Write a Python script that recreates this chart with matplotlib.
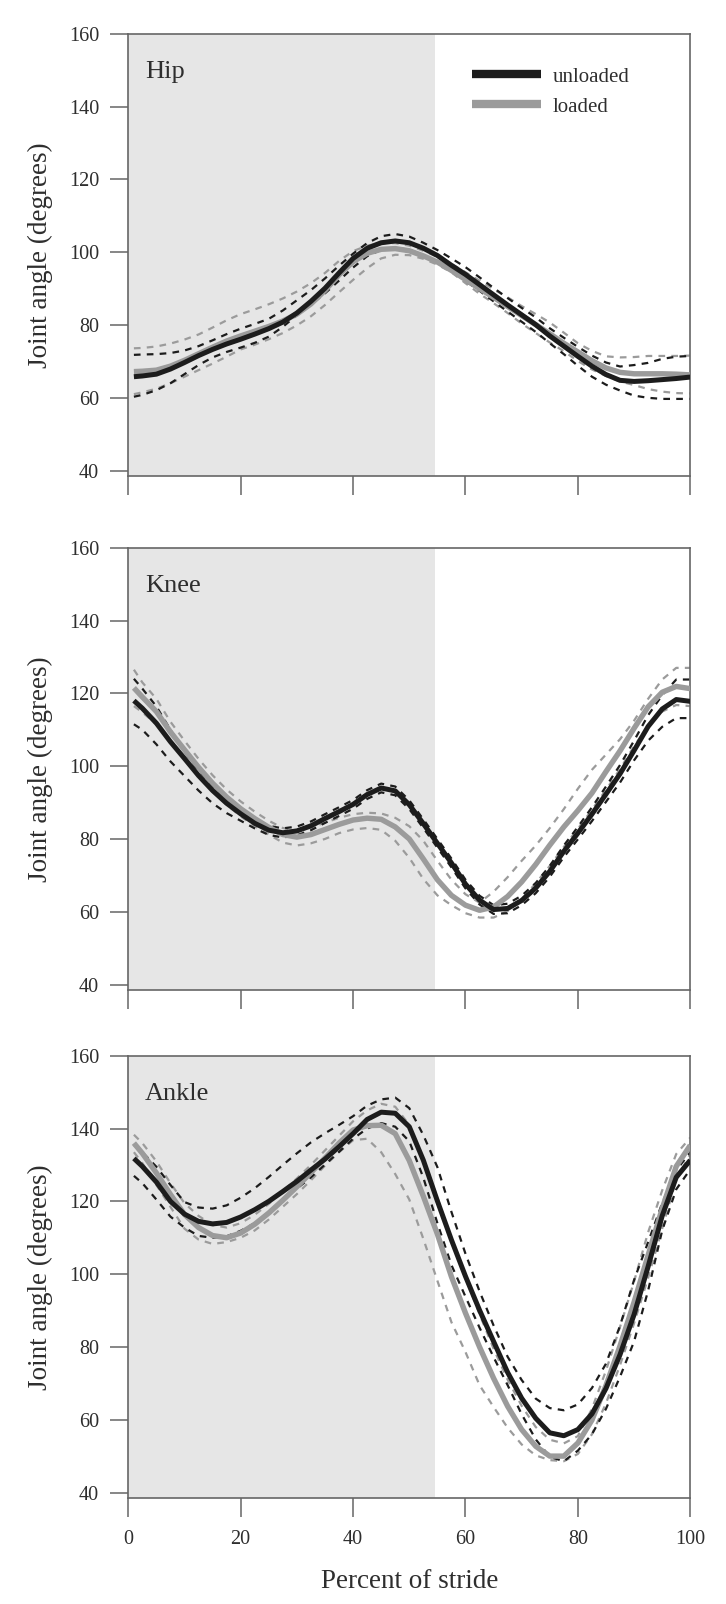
import matplotlib.pyplot as plt
from matplotlib.lines import Line2D

plt.rcParams['font.family'] = ['Liberation Serif', 'DejaVu Serif']

# Percent of stride at which the curves were read
stride = [1, 2.5, 5, 7.5, 10, 12.5, 15, 17.5, 20, 22.5, 25, 27.5, 30, 32.5, 35, 37.5, 40,
          42.5, 45, 47.5, 50, 52.5, 55, 57.5, 60, 62.5, 65, 67.5, 70, 72.5, 75, 77.5, 80,
          82.5, 85, 87.5, 90, 92.5, 95, 97.5, 100]
stance_end = 54.5

# Hip: mean and +/- SD bounds (unloaded = unl, loaded = ld)
hip_unl = [65.8, 66.0, 66.5, 67.9, 69.7, 71.6, 73.3, 74.8, 76.1, 77.5, 79.0, 80.8, 83.3, 86.5,
           90.1, 94.3, 98.3, 101.1, 102.6, 103.1, 102.6, 101.1, 99.1, 96.4, 93.9, 91.1, 88.3,
           85.5, 82.8, 80.1, 77.0, 74.2, 71.4, 68.7, 66.4, 64.8, 64.5, 64.7, 65.0, 65.3, 65.7]
hip_unl_hi = [71.8, 71.9, 72.0, 72.3, 73.0, 74.2, 75.8, 77.5, 79.0, 80.3, 81.7, 84.0, 86.8, 89.6,
              92.8, 96.3, 99.6, 102.5, 104.4, 105.0, 104.3, 102.6, 100.6, 98.3, 95.9, 93.1, 90.2,
              87.4, 84.7, 82.1, 79.1, 76.5, 74.0, 71.6, 69.7, 68.6, 69.0, 69.6, 70.7, 71.3, 71.5]
hip_unl_lo = [60.3, 60.8, 62.1, 64.0, 66.5, 69.0, 71.1, 72.6, 73.8, 75.1, 76.8, 79.5, 82.7, 85.6,
              88.7, 92.2, 95.8, 98.9, 100.7, 101.2, 100.7, 99.2, 97.4, 94.8, 92.1, 89.4, 86.5,
              83.7, 80.9, 78.1, 75.0, 72.0, 68.8, 65.8, 63.6, 62.0, 60.6, 60.0, 59.7, 59.7, 59.7]
hip_ld = [67.2, 67.3, 67.6, 68.7, 70.3, 72.1, 73.9, 75.6, 77.0, 78.3, 79.6, 81.1, 83.0, 85.8,
          89.5, 93.8, 97.4, 99.7, 100.8, 101.0, 100.4, 99.0, 97.3, 95.0, 92.5, 90.0, 87.6,
          85.1, 82.6, 80.1, 77.6, 75.0, 72.6, 70.2, 68.2, 67.0, 66.6, 66.6, 66.6, 66.5, 66.3]
hip_ld_hi = [73.6, 73.7, 74.1, 74.9, 76.0, 77.4, 79.3, 81.3, 83.0, 84.3, 85.7, 87.3, 89.2, 91.5,
             94.3, 97.6, 100.3, 101.8, 102.5, 102.5, 101.8, 100.4, 98.8, 96.8, 94.5, 92.2, 89.8,
             87.6, 85.2, 83.0, 80.7, 77.9, 75.0, 72.9, 71.4, 71.1, 71.2, 71.5, 71.5, 71.5, 71.6]
hip_ld_lo = [61.0, 61.5, 62.5, 64.0, 65.8, 67.6, 69.4, 71.3, 73.3, 74.6, 76.1, 77.8, 79.9, 82.4,
             85.5, 89.0, 92.4, 95.6, 98.3, 99.3, 99.2, 98.2, 96.6, 94.5, 91.5, 88.6, 86.0,
             83.3, 80.4, 77.8, 75.2, 72.8, 70.1, 67.8, 66.0, 64.5, 63.5, 62.4, 61.7, 61.3, 61.2]

# Knee
knee_unl = [118.0, 115.9, 111.8, 106.7, 102.1, 97.4, 93.3, 89.8, 86.9, 84.3, 82.4, 81.7, 82.2,
            83.6, 85.6, 87.5, 89.5, 92.2, 94.0, 93.2, 89.4, 84.2, 78.8, 73.4, 67.6, 63.2, 60.6,
            60.9, 63.1, 66.5, 71.1, 76.6, 81.6, 86.8, 92.3, 97.9, 104.3, 110.9, 115.7, 118.3, 117.8]
knee_unl_hi = [124.0, 121.3, 116.4, 110.0, 104.0, 98.8, 94.6, 91.0, 88.1, 85.5, 83.6, 82.9, 83.4,
               84.8, 86.8, 88.7, 90.7, 93.4, 95.2, 94.4, 90.6, 85.4, 80.0, 74.6, 68.8, 64.4, 61.8,
               62.2, 64.4, 67.9, 72.6, 78.2, 83.3, 88.7, 94.4, 100.3, 107.0, 114.0, 119.5, 123.8, 123.8]
knee_unl_lo = [111.5, 110.0, 106.0, 101.3, 97.3, 93.3, 89.8, 87.1, 85.0, 82.9, 81.1, 80.4, 81.0,
               82.4, 84.4, 86.3, 88.3, 91.0, 92.8, 92.0, 88.2, 83.0, 77.6, 72.2, 66.4, 62.0, 59.4,
               59.6, 61.8, 65.1, 69.6, 75.0, 79.9, 84.9, 90.2, 95.5, 101.6, 107.0, 110.8, 113.2, 113.2]
knee_ld = [121.5, 119.0, 115.0, 109.4, 104.5, 99.7, 95.3, 91.5, 88.3, 85.6, 83.2, 81.2, 80.5,
           81.2, 82.6, 84.0, 85.2, 85.7, 85.4, 83.3, 80.0, 74.5, 68.8, 64.5, 61.8, 60.4, 61.3,
           64.2, 68.2, 73.0, 78.3, 83.3, 87.8, 92.6, 98.5, 104.2, 110.4, 116.3, 120.3, 121.9, 121.3]
knee_ld_hi = [126.5, 123.0, 118.5, 112.2, 107.0, 102.0, 97.5, 93.6, 90.3, 87.5, 85.0, 83.0, 82.4,
              83.1, 84.5, 85.8, 86.8, 87.2, 87.0, 85.8, 83.5, 79.5, 74.0, 68.8, 64.8, 62.5, 65.5,
              69.5, 74.0, 78.2, 83.0, 88.2, 93.8, 99.0, 103.2, 107.4, 112.5, 118.5, 123.8, 127.0, 127.0]
knee_ld_lo = [116.5, 114.8, 111.5, 106.5, 102.0, 97.4, 93.0, 89.4, 86.2, 83.5, 81.2, 79.0, 78.2,
              78.8, 80.0, 81.6, 82.6, 83.0, 82.5, 79.5, 74.8, 69.0, 64.5, 61.8, 59.6, 58.4, 58.4,
              60.2, 63.5, 67.8, 72.6, 77.8, 82.8, 88.0, 93.5, 99.2, 105.5, 111.0, 115.0, 116.8, 116.5]

# Ankle
ank_unl = [131.8, 129.6, 125.3, 120.0, 116.5, 114.5, 113.8, 114.2, 115.7, 117.7, 120.0, 122.7,
           125.5, 128.6, 131.6, 135.0, 138.6, 142.5, 144.5, 144.2, 140.5, 131.3, 120.1, 109.4,
           99.4, 90.1, 81.5, 73.0, 65.9, 60.4, 56.4, 55.6, 57.3, 61.6, 68.6, 77.9, 88.9, 102.1,
           116.0, 126.6, 131.3]
ank_unl_hi = [135.5, 133.5, 129.5, 124.5, 119.8, 118.3, 118.0, 118.9, 121.0, 123.6, 126.7, 130.0,
              133.2, 136.2, 138.7, 141.0, 143.4, 146.3, 148.0, 148.5, 145.6, 138.2, 129.4, 117.1,
              105.6, 95.3, 85.9, 77.3, 70.9, 65.8, 63.2, 62.6, 64.2, 68.7, 75.4, 85.8, 98.4, 108.8,
              119.5, 128.5, 133.5]
ank_unl_lo = [127.0, 125.0, 120.5, 115.8, 112.8, 110.5, 110.0, 110.4, 111.9, 114.0, 116.8, 120.5,
              123.5, 126.6, 130.1, 133.6, 137.2, 140.0, 141.5, 140.5, 136.5, 126.5, 114.0, 102.5,
              93.8, 85.3, 77.2, 69.5, 61.5, 54.6, 49.8, 48.6, 51.5, 56.0, 63.0, 71.8, 81.5, 95.5,
              112.0, 123.3, 128.8]
ank_ld = [136.0, 133.2, 127.8, 121.9, 116.4, 112.8, 110.6, 110.0, 111.3, 113.7, 116.8, 120.3,
          124.0, 127.9, 131.9, 136.0, 139.6, 140.8, 140.9, 138.6, 131.2, 121.4, 111.0, 99.3,
          89.3, 80.0, 71.4, 63.7, 57.3, 52.7, 50.0, 50.0, 53.6, 59.9, 69.4, 80.3, 92.3, 105.2,
          118.0, 129.6, 135.4]
ank_ld_hi = [138.3, 136.0, 131.0, 125.0, 119.5, 116.0, 113.5, 112.8, 114.0, 116.3, 119.3, 122.8,
             126.3, 130.0, 134.0, 138.0, 142.0, 145.0, 146.8, 146.0, 141.0, 131.5, 121.0, 109.5,
             99.0, 89.0, 79.5, 71.0, 63.8, 58.0, 54.5, 53.5, 55.5, 63.0, 73.5, 85.5, 98.0, 111.5,
             123.0, 133.0, 137.5]
ank_ld_lo = [133.5, 130.5, 124.5, 118.5, 112.5, 109.5, 108.3, 108.8, 110.0, 112.0, 115.0, 118.5,
             122.0, 125.8, 129.8, 133.5, 136.8, 137.2, 133.5, 127.5, 120.5, 109.7, 98.2, 86.8,
             78.6, 69.5, 63.5, 57.8, 53.2, 50.2, 48.9, 48.6, 50.6, 56.0, 64.5, 75.0, 86.5, 99.0,
             112.5, 126.0, 133.0]

dark = '#1c1c1c'
light = '#9b9b9b'
frame = '#666666'
txt = '#2e2e2e'

fig = plt.figure(figsize=(7.26, 16.04), dpi=100)


def draw_panel(bottom, name, unl, unl_hi, unl_lo, ld, ld_hi, ld_lo, last=False):
    ax = fig.add_axes([0.1767, bottom, 0.7741, 0.2757])
    ax.axvspan(0, stance_end, color='#e6e6e6', lw=0, zorder=0)

    # SD bands (dashed), then the means
    for band, col in [(ld_hi, light), (ld_lo, light), (unl_hi, dark), (unl_lo, dark)]:
        ax.plot(stride, band, color=col, lw=1.6, dashes=(3, 2.8), zorder=2)
    ax.plot(stride, ld, color=light, lw=3.9, solid_capstyle='butt', zorder=3)
    ax.plot(stride, unl, color=dark, lw=3.6, solid_capstyle='butt', zorder=4)

    ax.set_xlim(0, 100)
    ax.set_ylim(38.5, 160)
    ax.set_xticks(range(0, 101, 20))
    ax.set_yticks(range(40, 161, 20))
    for s in ax.spines.values():
        s.set_color(frame)
        s.set_linewidth(1.2)
    ax.tick_params(axis='y', direction='out', length=13, width=1.1, color=frame,
                   labelsize=14.5, labelcolor=txt, pad=8)
    ax.tick_params(axis='x', direction='out', length=14, width=1.1, color=frame,
                   labelsize=14.5, labelcolor=txt, pad=9, labelbottom=last)

    ax.set_ylabel('Joint angle (degrees)', fontsize=19.5, color=txt)
    ax.yaxis.set_label_coords(-0.157, 0.5)
    ax.yaxis.label.set_va('center')

    ax.text(0.03, 0.9, name, transform=ax.transAxes, fontsize=19, color=txt,
            ha='left', va='baseline')
    if last:
        ax.set_xlabel('Percent of stride', fontsize=19.5, color=txt)
        ax.xaxis.set_label_coords(0.5, -0.19)
        ax.xaxis.label.set_va('center')
    return ax


ax1 = draw_panel(0.7032, 'Hip', hip_unl, hip_unl_hi, hip_unl_lo, hip_ld, hip_ld_hi, hip_ld_lo)
ax2 = draw_panel(0.3828, 'Knee', knee_unl, knee_unl_hi, knee_unl_lo, knee_ld, knee_ld_hi, knee_ld_lo)
ax3 = draw_panel(0.0661, 'Ankle', ank_unl, ank_unl_hi, ank_unl_lo, ank_ld, ank_ld_hi, ank_ld_lo,
                 last=True)

handles = [Line2D([], [], color=dark, lw=6, solid_capstyle='butt'),
           Line2D([], [], color=light, lw=6, solid_capstyle='butt')]
ax1.legend(handles, ['unloaded', 'loaded'], loc='upper left', bbox_to_anchor=(0.612, 0.925),
           frameon=False, fontsize=15, labelcolor=txt, handlelength=3.3, handletextpad=0.55,
           labelspacing=0.5, borderpad=0, borderaxespad=0)

fig.savefig('out.png', dpi=100)
